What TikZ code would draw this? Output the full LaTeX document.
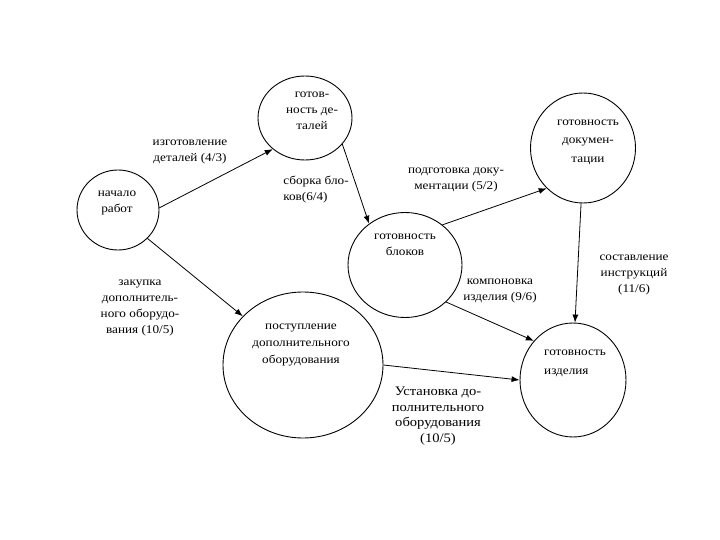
\documentclass[tikz,border=0pt]{standalone}
\usepackage{fontspec}
\setmainfont{Liberation Serif}[FakeStretch=1.12]
\usetikzlibrary{shapes.geometric,arrows.meta}
\begin{document}
\begin{tikzpicture}[x=1pt,y=-1pt,
  st/.style={draw,ellipse,line width=0.9pt,inner sep=0pt},
  lbl/.style={align=center,font=\fontsize{11.8}{16}\selectfont,inner sep=0pt},
  arr/.style={line width=0.8pt,-{Latex[length=8pt,width=6pt]}}]
\path[use as bounding box] (0,0) rectangle (720,540);
\node[st,minimum width=82pt,minimum height=80pt] (A) at (118,210) {};
\node[st,minimum width=94pt,minimum height=84pt] (B) at (305,118) {};
\node[st,minimum width=114pt,minimum height=105pt] (C) at (405,265) {};
\node[st,minimum width=105pt,minimum height=110pt] (D) at (583,148) {};
\node[st,minimum width=160pt,minimum height=146pt] (E) at (303,365) {};
\node[st,minimum width=106pt,minimum height=114pt] (F) at (573,380) {};
% texts inside
\node[lbl] (tA) at (117,203) {начало\\работ};
\node[lbl] (tB) at (312,111) {готов-\\ность де-\\талей};
\node[lbl] (tC) at (405,245) {готовность\\блоков};
\node[lbl,font=\fontsize{11.8}{18.5}\selectfont] (tD) at (588,142) {готовность\\докумен-\\тации};
\node[lbl,font=\fontsize{11.8}{17}\selectfont] (tE) at (301,345) {поступление\\дополнительного\\оборудования};
\node[lbl,align=left,font=\fontsize{11.8}{19}\selectfont] (tF) at (575,363) {готовность\\изделия};
% connectors
\draw[arr] (A.3) -- (B.224);
\draw[arr] (A.316) -- (E.141);
\draw[arr] (B.325) -- (C.131);
\draw[arr] (C.47) -- (D.228);
\draw[arr] (D.268) -- (F.88);
\draw[arr] (C.318) -- (F.135);
\draw[arr] (E.0) -- (F.180);
% edge labels
\node[lbl] (l1) at (190,152) {изготовление\\деталей (4/3)};
\node[lbl,align=left] (l2) at (316,190) {сборка бло-\\ков(6/4)};
\node[lbl] (l3) at (456,180) {подготовка доку-\\ментации (5/2)};
\node[lbl] (l4) at (500,291) {компоновка\\изделия (9/6)};
\node[lbl] (l5) at (634,275) {составление\\инструкций\\(11/6)};
\node[lbl] (l6) at (140,308) {закупка\\дополнитель-\\ного оборудо-\\вания (10/5)};
\node[lbl,font=\fontsize{13}{15.5}\selectfont] (l7) at (438,416) {Установка до-\\полнительного\\оборудования\\(10/5)};
\end{tikzpicture}
\end{document}
